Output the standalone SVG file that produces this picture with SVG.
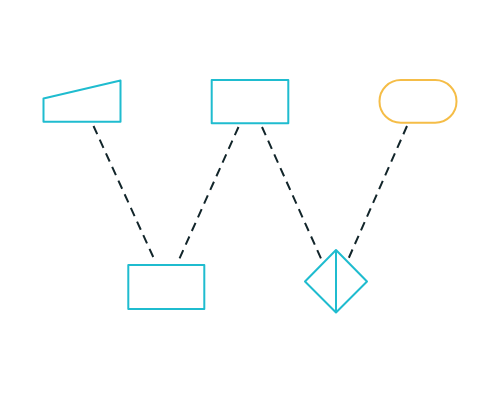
<svg xmlns="http://www.w3.org/2000/svg" width="500" height="400" viewBox="0 0 500 400">
<style>
.n{fill:none;stroke:#1fbccf;stroke-width:2;stroke-linejoin:round}
.o{fill:none;stroke:#f5bd47;stroke-width:2}
.e{fill:none;stroke:#12252a;stroke-width:2;stroke-dasharray:9 6}
</style>
<rect width="500" height="400" fill="#fff"/>
<g id="edges">
<line class="e" x1="93.5" y1="126" x2="155.5" y2="262"/>
<line class="e" x1="238.5" y1="127" x2="177.5" y2="263"/>
<line class="e" x1="262" y1="127" x2="323" y2="263"/>
<line class="e" x1="407" y1="126" x2="347" y2="262"/>
</g>
<g id="trapezoid"><polygon class="n" points="43.5,98.5 120.5,80.5 120.5,121.8 43.5,121.8"/></g>
<g id="rectTop"><rect class="n" x="211.7" y="80" width="76.6" height="43.3"/></g>
<g id="stadium"><rect class="o" x="379.5" y="80" width="77" height="42.7" rx="21.3"/></g>
<g id="rectBottom"><rect class="n" x="128.3" y="265" width="76" height="44"/></g>
<g id="diamond"><polygon class="n" points="336,250 367,281.5 336,312.5 305,281.5"/><line class="n" x1="336" y1="250" x2="336" y2="312.5"/></g>
</svg>
